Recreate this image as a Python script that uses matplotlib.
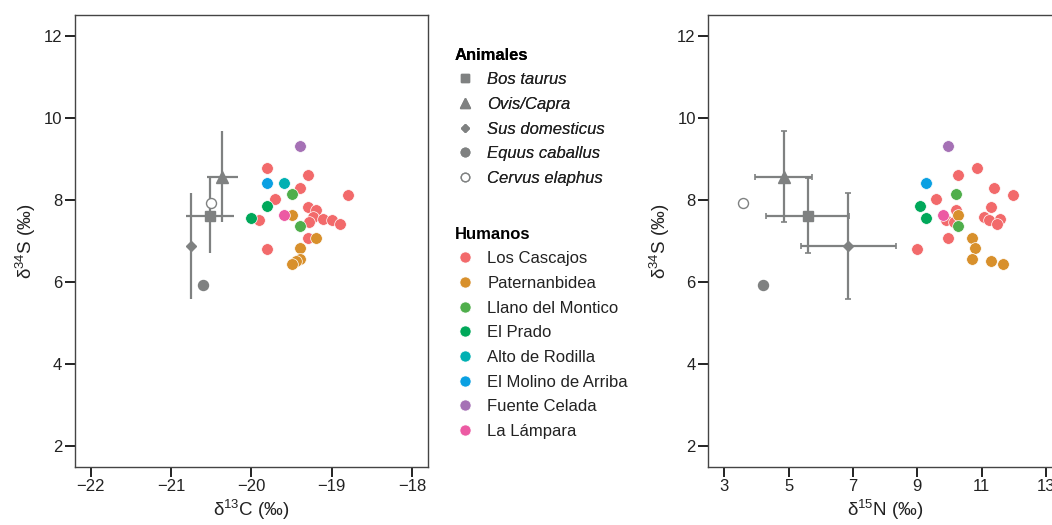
import matplotlib
matplotlib.use("Agg")
import matplotlib.pyplot as plt
from matplotlib.lines import Line2D

plt.rcParams['font.family'] = ['Liberation Sans', 'DejaVu Sans']
plt.rcParams['mathtext.fontset'] = 'custom'
plt.rcParams['mathtext.rm'] = 'Liberation Sans'
plt.rcParams['mathtext.it'] = 'Liberation Sans:italic'
plt.rcParams['mathtext.bf'] = 'Liberation Sans:bold'

# ---- Human data (d13C, d15N, d34S) ----
sites = ["Los Cascajos", "Paternanbidea", "Llano del Montico", "El Prado",
         "Alto de Rodilla", "El Molino de Arriba", "Fuente Celada", "La Lámpara"]
site_colors = ["#F26A6B", "#D8902C", "#4FAE4B", "#00A85A",
               "#00B0B2", "#0AA0E2", "#A571B5", "#EC5AA3"]

cascajos_c = [-19.81, -19.30, -19.40, -18.80, -19.70, -19.30, -19.20, -19.90,
              -19.23, -19.11, -19.00, -18.90, -19.28, -19.30, -19.80]
cascajos_n = [10.87, 10.27, 11.37, 11.98, 9.58, 11.29, 10.19, 9.89,
              11.08, 11.58, 11.24, 11.47, 10.15, 9.97, 8.98]
cascajos_s = [8.77, 8.61, 8.29, 8.12, 8.03, 7.84, 7.76, 7.50,
              7.58, 7.54, 7.50, 7.42, 7.46, 7.07, 6.81]

patern_c = [-19.50, -19.20, -19.40, -19.40, -19.45, -19.50]
patern_n = [10.28, 10.69, 10.79, 10.69, 11.29, 11.67]
patern_s = [7.63, 7.07, 6.83, 6.56, 6.52, 6.44]

llano_c = [-19.50, -19.40]
llano_n = [10.19, 10.27]
llano_s = [8.15, 7.36]

prado_c = [-19.81, -20.00]
prado_n = [9.08, 9.28]
prado_s = [7.86, 7.56]

alto_c = [-19.60]
alto_n = [9.28]
alto_s = [8.41]

molino_c = [-19.81]
molino_n = [9.28]
molino_s = [8.41]

fuente_c = [-19.40]
fuente_n = [9.97]
fuente_s = [9.32]

lampara_c = [-19.60]
lampara_n = [9.79]
lampara_s = [7.64]

human_c = [cascajos_c, patern_c, llano_c, prado_c, alto_c, molino_c, fuente_c, lampara_c]
human_n = [cascajos_n, patern_n, llano_n, prado_n, alto_n, molino_n, fuente_n, lampara_n]
human_s = [cascajos_s, patern_s, llano_s, prado_s, alto_s, molino_s, fuente_s, lampara_s]

# ---- Animal means and SDs ----
animals = ["Bos taurus", "Ovis/Capra", "Sus domesticus", "Equus caballus", "Cervus elaphus"]
animal_c = [-20.51, -20.36, -20.75, -20.60, -20.50]
animal_c_sd = [0.30, 0.19, 0.0, 0.0, 0.0]
animal_n = [5.59, 4.84, 6.85, 4.20, 3.57]
animal_n_sd = [1.29, 0.90, 1.48, 0.0, 0.0]
animal_s = [7.62, 8.57, 6.87, 5.92, 7.92]
animal_s_sd = [0.92, 1.10, 1.29, 0.0, 0.0]
animal_markers = ["s", "^", "D", "o", "o"]
animal_msize = [7.5, 9.0, 5.2, 7.2, 7.2]
animal_filled = [True, True, True, True, False]

grey = "#7F8181"
axis_col = "#444444"

fig = plt.figure(figsize=(10.52, 5.25), dpi=100)
axL = fig.add_axes([74.5 / 1052, 58.3 / 525, 353.7 / 1052, 451.4 / 525])
axR = fig.add_axes([708.3 / 1052, 58.3 / 525, 353.7 / 1052, 451.4 / 525])


def draw(ax, hx, ax_x, ax_xsd, capsize):
    for i in range(len(animals)):
        if animal_s_sd[i] > 0:
            ax.errorbar(ax_x[i], animal_s[i],
                        xerr=ax_xsd[i] if ax_xsd[i] > 0 else None,
                        yerr=animal_s_sd[i], fmt="none", ecolor=grey,
                        elinewidth=1.6, capsize=capsize, capthick=1.2, zorder=2)
        ax.plot(ax_x[i], animal_s[i], linestyle="none", marker=animal_markers[i],
                markersize=animal_msize[i],
                markerfacecolor=grey if animal_filled[i] else "white",
                markeredgecolor=grey, markeredgewidth=1.0, zorder=3)
    for xs, ys, col in zip(hx, human_s, site_colors):
        ax.plot(xs, ys, linestyle="none", marker="o", markersize=8.4,
                markerfacecolor=col, markeredgecolor="white",
                markeredgewidth=0.5, zorder=4)
    ax.set_ylim(1.5, 12.5)
    ax.set_yticks([2, 4, 6, 8, 10, 12])
    ax.set_ylabel("δ$^{34}$S (‰)", fontsize=13.5, color="#222222", labelpad=4)
    for sp in ax.spines.values():
        sp.set_color(axis_col)
        sp.set_linewidth(1.0)
    ax.tick_params(direction="out", length=7, width=1.4, color="#222222",
                   labelsize=12, labelcolor="#222222", pad=2)


draw(axL, human_c, animal_c, animal_c_sd, 0)
axL.set_xlim(-22.2, -17.8)
axL.set_xticks([-22, -21, -20, -19, -18])
axL.set_xticklabels(["\u221222", "\u221221", "\u221220", "\u221219", "\u221218"])
axL.set_xlabel("δ$^{13}$C (‰)", fontsize=13.5, color="#222222", labelpad=3)

draw(axR, human_n, animal_n, animal_n_sd, 2)
axR.set_xlim(2.5, 13.5)
axR.set_xticks([3, 5, 7, 9, 11, 13])
axR.set_xlabel("δ$^{15}$N (‰)", fontsize=13.5, color="#222222", labelpad=3)

# ---- Legends ----
animal_handles = [Line2D([], [], linestyle="none", marker=m, markersize=ms * 0.85,
                         markerfacecolor=grey if f else "white",
                         markeredgecolor=grey, label=lab)
                  for m, ms, f, lab in zip(animal_markers, animal_msize, animal_filled, animals)]
human_handles = [Line2D([], [], linestyle="none", marker="o", markersize=8.0,
                        markerfacecolor=c, markeredgecolor="white", markeredgewidth=0.5,
                        label=lab)
                 for c, lab in zip(site_colors, sites)]

common = dict(loc="upper left", frameon=False, fontsize=12,
              title_fontproperties={"weight": "bold", "size": 12},
              alignment="left", labelspacing=0.58, handlelength=1.2,
              handletextpad=0.75, borderpad=0.2)
leg1 = fig.legend(handles=animal_handles, title="Animales",
                  bbox_to_anchor=(443 / 1052, 1 - 36 / 525), **common)
for t in leg1.get_texts():
    t.set_fontstyle("italic")
    t.set_color("#222222")
leg2 = fig.legend(handles=human_handles, title="Humanos",
                  bbox_to_anchor=(443 / 1052, 1 - 215 / 525), **common)
for t in leg2.get_texts():
    t.set_color("#222222")
fig.add_artist(leg1)

fig.savefig("out.png", dpi=100)
